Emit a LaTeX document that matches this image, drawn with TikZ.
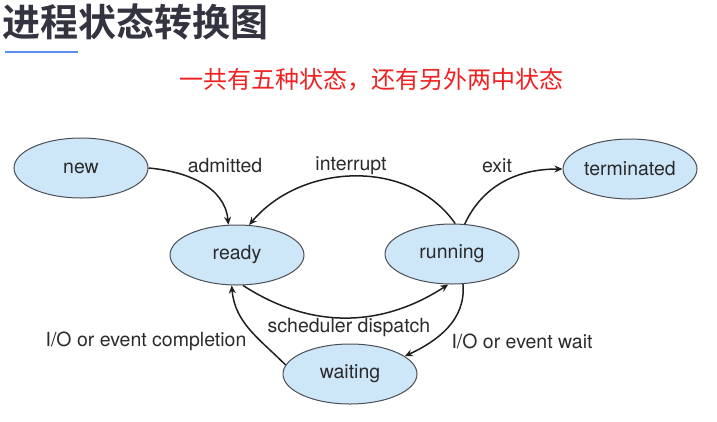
\documentclass[tikz,border=0pt]{standalone}
\usepackage{fontspec}
\setmainfont{TeX Gyre Heros}
\newfontfamily\cjk{Noto Sans CJK SC}
\newfontfamily\cjkb{Noto Sans CJK SC Bold}
\usetikzlibrary{shapes.geometric,arrows.meta}
\definecolor{statefill}{HTML}{CDE6F8}
\definecolor{stateedge}{HTML}{4A4E55}
\definecolor{txt}{HTML}{2B2B2B}
\definecolor{titlec}{HTML}{33343F}
\definecolor{linec}{HTML}{5B8DEF}
\definecolor{redc}{HTML}{EE2222}
\tikzset{
  state/.style={ellipse, draw=stateedge, line width=1pt, fill=statefill, minimum width=134pt, minimum height=60pt, inner sep=0pt, text=txt, font=\fontsize{19.5}{21}\selectfont},
  lbl/.style={text=txt, font=\fontsize{19.5}{21}\selectfont, inner sep=0pt},
  conn/.style={draw=black!88, line width=1.5pt, -{Stealth[length=8pt,width=7pt]}}
}
\begin{document}
\begin{tikzpicture}[x=1pt,y=-1pt]
\useasboundingbox (0,0) rectangle (717,421);
\node[anchor=west, inner sep=0pt, text=titlec, font=\cjkb\fontsize{38}{40}\selectfont] (title) at (2,22) {进程状态转换图};
\draw[linec, line width=2pt] (5,52) -- (78,52);
\node[inner sep=0pt, text=redc, font=\cjk\fontsize{24}{26}\selectfont] (sub) at (371,80) {一共有五种状态，还有另外两中状态};

\node[state] (new) at (81,168) {new};
\node[state] (ready) at (237,255) {ready};
\node[state] (running) at (452,254) {running};
\node[state] (term) at (630,169) {terminated};
\node[state] (wait) at (350,374) {waiting};

\draw[conn] (new.east) to[out=-5,in=95] (ready.106);
\draw[conn] (running.84) to[out=125,in=50] (ready.68);
\draw[conn] (running.67) to[out=65,in=180] (term.west);
\draw[conn] (ready.-79) to[out=-33,in=-147] (running.-97);
\draw[conn] (running.-70) to[out=-85,in=25] (wait.18);
\draw[conn] (wait.172) to[out=135,in=-85] (ready.-100);

\node[lbl] (l1) at (225,166) {admitted};
\node[lbl] (l2) at (351,166) {interrupt};
\node[lbl] (l3) at (497,166) {exit};
\node[lbl] (l4) at (349,328) {scheduler dispatch};
\node[lbl] (l5) at (146,341) {I/O or event completion};
\node[lbl] (l6) at (522,341) {I/O or event wait};
\end{tikzpicture}
\end{document}
